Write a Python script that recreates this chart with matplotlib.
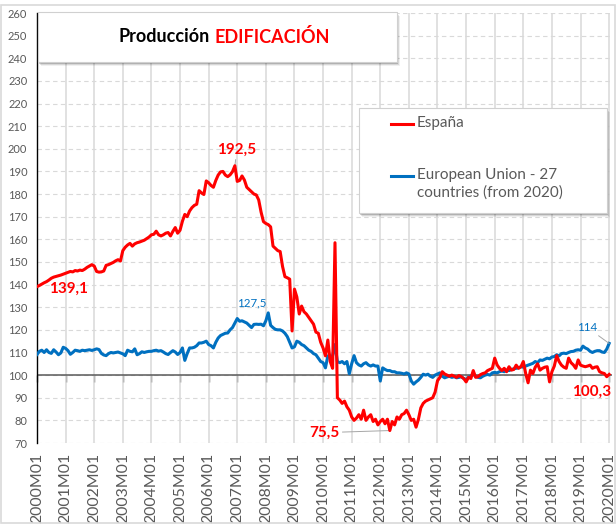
import numpy as np
import matplotlib
matplotlib.use("Agg")
import matplotlib.pyplot as plt
from matplotlib.patches import Rectangle
from matplotlib.lines import Line2D

plt.rcParams['font.family'] = ['Lato', 'DejaVu Sans']

# monthly index, 2000M01 .. 2020M01
tick_labels = ["2000M01", "2001M01", "2002M01", "2003M01", "2004M01", "2005M01",
               "2006M01", "2007M01", "2008M01", "2009M01", "2010M01", "2011M01",
               "2012M01", "2013M01", "2014M01", "2015M01", "2016M01", "2017M01",
               "2018M01", "2019M01", "2020M01"]

series_names = ["España", "European Union - 27\ncountries (from 2020)"]

espana = [
    # 2000
    139.1, 139.6, 140.2, 140.8, 141.3, 142.0, 142.8, 143.3, 143.6, 143.9, 144.2, 144.6,
    # 2001
    145.0, 145.4, 145.8, 145.6, 146.2, 146.0, 146.4, 146.2, 146.8, 147.6, 148.2, 148.8,
    # 2002
    148.2, 145.8, 145.5, 145.6, 146.0, 148.5, 148.8, 149.3, 149.8, 150.5, 151.0, 150.4,
    # 2003
    155.0, 156.5, 157.5, 158.2, 157.0, 158.0, 158.5, 158.8, 159.2, 159.6, 160.3, 161.0,
    # 2004
    162.0, 162.2, 163.6, 162.0, 161.5, 162.0, 162.7, 163.0, 161.5, 163.5, 165.2, 162.7,
    # 2005
    164.0, 168.0, 171.0, 170.0, 172.5, 174.0, 175.0, 175.5, 181.5, 180.5, 179.8, 185.8,
    # 2006
    185.0, 183.8, 183.0, 186.0, 188.4, 189.8, 190.0, 188.4, 187.7, 188.5, 189.9, 192.5,
    # 2007
    185.6, 186.0, 188.0, 186.2, 183.0, 182.0, 181.0, 180.0, 179.6, 177.4, 172.0, 167.8,
    # 2008
    167.0, 166.5, 165.5, 157.0, 156.0, 155.0, 154.6, 148.0, 143.5, 143.0, 142.4, 119.5,
    # 2009
    138.0, 134.5, 127.0, 130.5, 128.0, 127.0, 125.5, 124.0, 122.5, 119.0, 118.5, 114.5,
    # 2010
    112.0, 108.5, 115.5, 106.0, 103.0, 158.5, 90.0, 89.0, 87.5, 88.5, 86.0, 84.5,
    # 2011
    81.5, 80.0, 81.0, 82.5, 80.5, 84.5, 80.0, 81.5, 82.5, 79.5, 80.5, 78.0,
    # 2012
    79.5, 80.5, 78.5, 80.5, 75.5, 79.5, 78.0, 81.5, 80.5, 82.5, 83.0, 84.5,
    # 2013
    82.5, 80.0, 80.5, 77.0, 80.5, 85.5, 87.5, 88.5, 89.0, 89.5, 90.0, 92.5,
    # 2014
    97.5, 99.0, 101.5, 100.5, 100.0, 99.5, 100.0, 99.5, 99.0, 99.8, 99.3, 98.5,
    # 2015
    97.0, 99.0, 98.5, 102.0, 99.0, 99.3, 100.2, 100.7, 101.0, 102.0, 102.5, 103.0,
    # 2016
    107.5, 104.5, 103.0, 102.0, 103.0, 101.5, 103.7, 102.2, 102.5, 104.4, 103.0, 103.7,
    # 2017
    106.0, 100.7, 96.6, 102.2, 100.7, 103.5, 105.0, 102.2, 103.0, 103.5, 103.7, 97.0,
    # 2018
    101.5, 104.0, 108.6, 106.0, 104.4, 103.5, 103.0, 107.5, 105.5, 104.5, 103.0, 106.7,
    # 2019
    104.4, 104.0, 103.7, 104.0, 104.4, 103.0, 103.5, 103.7, 101.5, 101.0, 100.7, 99.3,
    # 2020
    100.3,
]

eu27 = [
    # 2000
    109.1, 110.5, 111.0, 110.0, 111.2, 110.0, 109.6, 111.2, 110.2, 109.0, 109.8, 112.3,
    # 2001
    111.8, 110.8, 109.2, 110.0, 111.0, 110.8, 110.5, 111.0, 110.8, 111.0, 111.2, 110.9,
    # 2002
    111.2, 111.6, 111.3, 109.6, 108.9, 108.6, 109.5, 110.0, 109.8, 110.0, 110.2, 109.8,
    # 2003
    109.4, 108.6, 111.0, 110.5, 110.3, 111.6, 109.0, 109.5, 110.3, 110.0, 110.3, 110.5,
    # 2004
    110.5, 110.8, 111.0, 110.6, 110.8, 110.2, 109.5, 109.1, 110.0, 110.8, 110.2, 109.1,
    # 2005
    110.0, 112.0, 106.5, 109.5, 112.0, 112.0, 112.3, 113.0, 114.2, 114.2, 114.5, 115.0,
    # 2006
    113.5, 113.0, 112.0, 114.5, 116.4, 117.5, 118.0, 118.5, 118.6, 120.0, 121.0, 123.0,
    # 2007
    125.0, 123.8, 124.0, 123.5, 123.0, 122.0, 121.0, 122.4, 122.5, 122.4, 122.5, 121.8,
    # 2008
    124.0, 127.5, 122.0, 121.0, 120.2, 120.0, 120.0, 119.5, 118.5, 117.0, 114.5, 112.0,
    # 2009
    112.5, 115.0, 114.5, 113.5, 113.0, 112.0, 111.0, 110.5, 109.5, 109.0, 107.5, 106.0,
    # 2010
    105.5, 103.2, 108.5, 108.0, 108.6, 113.5, 106.0, 105.5, 106.0, 105.0, 106.0, 100.6,
    # 2011
    105.0, 108.6, 105.5, 104.5, 104.0, 105.0, 105.5, 104.5, 104.0, 104.5, 104.0, 104.0,
    # 2012
    97.4, 103.2, 102.5, 102.0, 102.0, 101.5, 101.5, 101.0, 101.0, 100.8, 100.5, 101.0,
    # 2013
    100.5, 97.4, 96.0, 97.0, 97.8, 99.0, 100.4, 100.0, 100.4, 99.5, 99.0, 100.0,
    # 2014
    100.5, 101.0, 99.5, 98.8, 99.2, 99.5, 99.0, 99.3, 98.8, 99.0, 99.3, 98.5,
    # 2015
    98.0, 99.0, 99.5, 100.3, 99.5, 99.0, 98.8, 99.5, 100.0, 100.3, 100.0, 101.0,
    # 2016
    101.2, 101.0, 101.5, 101.8, 101.5, 102.2, 102.0, 102.5, 102.8, 103.0, 103.2, 103.7,
    # 2017
    103.5, 104.0, 104.4, 104.8, 105.2, 106.0, 105.5, 106.7, 106.5, 107.0, 107.5, 107.2,
    # 2018
    108.0, 108.2, 109.0, 108.5, 109.5, 109.7, 109.5, 110.0, 110.4, 110.5, 111.0, 111.2,
    # 2019
    111.0, 112.8, 112.0, 111.5, 110.5, 110.0, 110.5, 110.8, 110.8, 110.2, 110.0, 111.5,
    # 2020
    114.0,
]

RED = "#FF0000"
BLUE = "#0070C0"
GREY = "#595959"
W, H = 616, 527


def fx(px):
    return px / W


def fy(py):
    return 1 - py / H


def fmt(v):
    # spanish decimal comma, integers without decimals
    if float(v).is_integer():
        return str(int(v))
    return f"{v:.1f}".replace(".", ",")


def shadow_box(fig, x0, y0, x1, y1):
    # soft shadow + white box, pixel coords (top-left origin)
    for off, a in [(4, 0.06), (3, 0.10), (2, 0.18)]:
        fig.patches.append(Rectangle((fx(x0 + off - 1), fy(y1 + off)), fx(x1 - x0), (y1 - y0) / H,
                                     transform=fig.transFigure, facecolor="black", alpha=a,
                                     edgecolor="none", zorder=5))
    fig.patches.append(Rectangle((fx(x0), fy(y1)), fx(x1 - x0), (y1 - y0) / H,
                                 transform=fig.transFigure, facecolor="white",
                                 edgecolor="#d0d0d0", lw=0.8, zorder=6))


x = np.arange(len(espana))
es = np.array(espana)
eu = np.array(eu27)

fig = plt.figure(figsize=(6.16, 5.27), dpi=100)
ax = fig.add_axes([fx(37), fy(443), fx(612 - 37), (443 - 13) / H])

ax.plot(x, es, color=RED, lw=2.2, zorder=4, solid_joinstyle="round")
ax.plot(x, eu, color=BLUE, lw=2.2, zorder=3, solid_joinstyle="round")

ax.set_xlim(0, 241.2)
ax.set_ylim(70, 260)
ax.set_yticks(np.arange(70, 261, 10))
ax.set_xticks(np.arange(0, len(x), 12))
ax.set_xticklabels(tick_labels, rotation=90, fontsize=11.4, color=GREY)
ax.tick_params(axis="x", length=0, pad=7)
ax.tick_params(axis="y", length=0, pad=7, labelsize=8, labelcolor=GREY)

ax.grid(axis="y", color="#d9d9d9", lw=0.8, ls=(0, (4, 3)))
ax.grid(axis="x", color="#d9d9d9", lw=1.1)
ax.set_axisbelow(True)

for s in ["top", "right", "bottom"]:
    ax.spines[s].set_visible(False)
ax.spines["left"].set_color("black")
ax.spines["left"].set_linewidth(1.0)

# horizontal axis crossing at 100 with year ticks
ax.axhline(100, color=GREY, lw=1.1, zorder=2.5)
sec = ax.secondary_xaxis((100 - 70) / (260 - 70))
sec.set_xticks(np.arange(0, len(x), 12))
sec.tick_params(length=5, width=1, color=GREY, direction="out",
                labelbottom=False, labeltop=False)
sec.spines["bottom"].set_visible(False)
sec.spines["top"].set_visible(False)

# data labels
i_max = int(np.argmax(es))
i_min = int(np.argmin(es))
i_eu = int(np.argmax(eu))
last = len(x) - 1
lead = dict(arrowstyle="-", color="#a6a6a6", lw=0.7, shrinkA=0, shrinkB=0)

ax.annotate(fmt(es[0]), (x[0], es[0]), xytext=(23, -1.5), textcoords="offset points",
            ha="center", va="center", color=RED, fontsize=11, fontweight="bold")
ax.annotate(fmt(es[i_max]), (x[i_max], es[i_max]), xytext=(1.5, 11.5), textcoords="offset points",
            ha="center", va="center", color=RED, fontsize=11, fontweight="bold", arrowprops=lead)
ax.annotate(fmt(es[i_min]), (x[i_min], es[i_min]), xytext=(-47, -1.5), textcoords="offset points",
            ha="center", va="center", color=RED, fontsize=11, fontweight="bold", arrowprops=lead)
ax.annotate(fmt(es[last]), (x[last], es[last]), xytext=(-12.4, -12.7), textcoords="offset points",
            ha="center", va="center", color=RED, fontsize=11, fontweight="bold", annotation_clip=False)
ax.annotate(fmt(eu[i_eu]), (x[i_eu], eu[i_eu]), xytext=(-11.7, 7), textcoords="offset points",
            ha="center", va="center", color=BLUE, fontsize=8.3)
ax.annotate(fmt(eu[last]), (x[last], eu[last]), xytext=(-15.8, 11.5), textcoords="offset points",
            ha="center", va="center", color=BLUE, fontsize=8.3, arrowprops=lead,
            annotation_clip=False)

# title box
shadow_box(fig, 38, 12, 397, 62)
fig.text(fx(210), fy(37), "Producción", ha="right", va="center", fontsize=13,
         fontweight="bold", color="black", zorder=7)
fig.text(fx(215), fy(37), "EDIFICACIÓN", ha="left", va="center", fontsize=13,
         fontweight="bold", color=RED, zorder=7)

# legend box
shadow_box(fig, 359, 108, 607, 213)
for name, col, ly in zip(series_names, [RED, BLUE], [123.5, 175.7]):
    fig.lines.append(Line2D([fx(391), fx(413)], [fy(ly), fy(ly)], transform=fig.transFigure,
                            color=col, lw=2.2, zorder=7))
    fig.text(fx(417), fy(ly - 7.5), name, ha="left", va="top", fontsize=11, color=GREY,
             linespacing=1.3, zorder=7)

# outer chart border
fig.patches.append(Rectangle((fx(1), fy(523)), fx(614), (523 - 5) / H, transform=fig.transFigure,
                             fill=False, edgecolor="#d9d9d9", lw=1.2, zorder=0))

fig.savefig("out.png", dpi=100)
